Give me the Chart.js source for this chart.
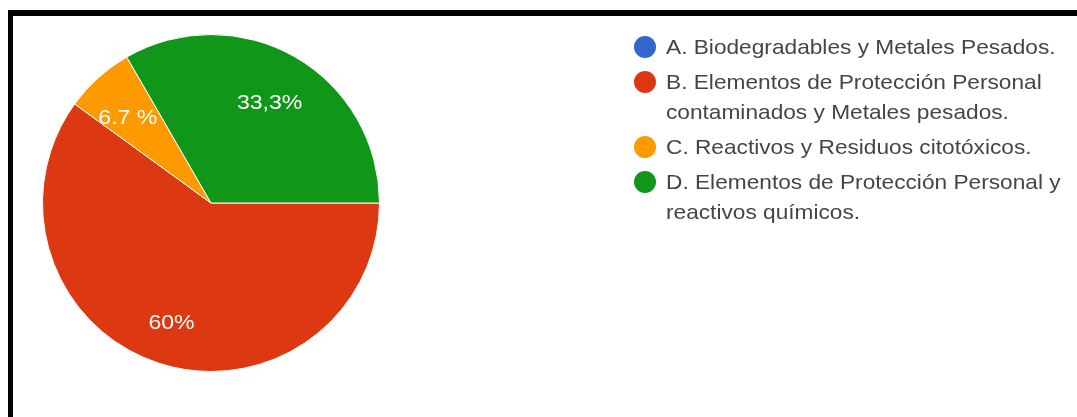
<!DOCTYPE html>
<html>
<head>
<meta charset="utf-8">
<script src="https://cdn.jsdelivr.net/npm/chart.js@4.4.1/dist/chart.umd.min.js"></script>
<style>
  html, body { margin: 0; padding: 0; background: #fff; overflow: hidden; }
  #frame {
    position: absolute; left: 8px; top: 10px; width: 1200px; height: 600px;
    border-style: solid; border-color: #000; border-width: 6px 5px 5px 5px;
  }
  #wrap { position: absolute; left: 0; top: 0; width: 1077px; height: 417px; }
  #legend {
    position: absolute; left: 634px; top: 32px;
    font-family: "Liberation Sans", Arial, sans-serif; font-size: 21px; color: #454545;
  }
  .item { position: relative; margin-bottom: 5px; }
  .dot { position: absolute; left: 0; top: 4px; width: 22px; height: 22px; border-radius: 50%; }
  .txt { margin-left: 32px; line-height: 30px; white-space: nowrap; transform: scaleX(1.08); transform-origin: 0 0; }
</style>
</head>
<body>
<div id="frame"></div>
<div id="wrap"><canvas id="myChart"></canvas></div>
<div id="legend"></div>
<script>
// respuestas por opción (15 en total)
const categorias = ['A', 'B', 'C', 'D'];
const respuestas = [0, 9, 1, 5];
const etiquetas = ['0%', '60%', '6.7 %', '33,3%'];
const leyenda = [
  ['A. Biodegradables y Metales Pesados.'],
  ['B. Elementos de Protección Personal', 'contaminados y Metales pesados.'],
  ['C. Reactivos y Residuos citotóxicos.'],
  ['D. Elementos de Protección Personal y', 'reactivos químicos.']
];
const colores = ['#3366cc', '#dc3912', '#ff9900', '#109618'];

const sliceLabels = {
  id: 'sliceLabels',
  afterDatasetsDraw(chart) {
    const ctx = chart.ctx;
    const meta = chart.getDatasetMeta(0);
    ctx.save();
    ctx.font = '21px "Liberation Sans", Arial, sans-serif';
    ctx.fillStyle = '#fff';
    ctx.textAlign = 'center';
    ctx.textBaseline = 'middle';
    meta.data.forEach((arc, i) => {
      if (!respuestas[i]) return;
      const p = arc.getProps(['x', 'y', 'startAngle', 'endAngle', 'outerRadius']);
      const mid = (p.startAngle + p.endAngle) / 2;
      const r = p.outerRadius * 0.72;
      ctx.save();
      ctx.translate(p.x + Math.cos(mid) * r - 2, p.y + Math.sin(mid) * r + 5);
      ctx.scale(1.1, 1);
      ctx.fillText(etiquetas[i], 0, 0);
      ctx.restore();
    });
    ctx.restore();
  }
};

const myChart = new Chart(document.getElementById('myChart'), {
  type: 'pie',
  data: {
    labels: categorias,
    datasets: [{
      data: respuestas,
      backgroundColor: colores,
      borderColor: '#fff',
      borderWidth: 1
    }]
  },
  options: {
    responsive: true,
    maintainAspectRatio: false,
    animation: false,
    rotation: 90,
    layout: { padding: { left: 42, right: 697, top: 34, bottom: 45 } },
    plugins: {
      legend: { display: false },
      tooltip: { enabled: false }
    }
  },
  plugins: [sliceLabels]
});

// leyenda en HTML
const legendEl = document.getElementById('legend');
leyenda.forEach((lineas, i) => {
  const item = document.createElement('div');
  item.className = 'item';
  const dot = document.createElement('div');
  dot.className = 'dot';
  dot.style.background = colores[i];
  item.appendChild(dot);
  lineas.forEach(l => {
    const t = document.createElement('div');
    t.className = 'txt';
    t.textContent = l;
    item.appendChild(t);
  });
  legendEl.appendChild(item);
});
</script>
</body>
</html>
